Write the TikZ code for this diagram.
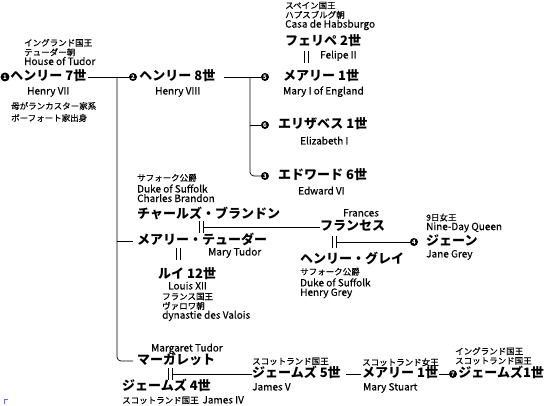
\documentclass[tikz,border=0pt]{standalone}
\usepackage{fontspec}
\setmainfont{Noto Sans CJK JP}
\newfontfamily\notefont{Noto Sans CJK JP}[FakeBold=0.4]
\newcommand{\en}{\fontsize{10}{9.5}\selectfont}
\usetikzlibrary{positioning,calc}

\begin{document}
\begin{tikzpicture}[
    x=1pt, y=-1pt,
    person/.style={font=\bfseries\fontsize{13}{13}\selectfont, inner sep=0, anchor=west, text height=0.8em, text depth=0.1em},
    note/.style={font=\notefont\fontsize{8.5}{9.5}\selectfont, inner sep=0, anchor=west, align=left},
    line1/.style={note, text height=0.8em, text depth=0.1em},
    en1/.style={line1, font=\notefont\en},
    num/.style={circle, fill=black, text=white, inner sep=0, minimum size=8pt, font=\bfseries\fontsize{6}{6}\selectfont},
    marr/.style={minimum width=3.5pt, minimum height=11pt, inner sep=0},
    link/.style={line width=0.7pt},
]
\useasboundingbox (0,0) rectangle (550,406);

% Henry VII
\node[num, minimum size=9pt] (c1) at (5,77) {1};
\node[person, right=0.5pt of c1] (h7) {ヘンリー 7世};
\node[note] (h7t) at (24,52) {イングランド国王\\テューダー朝\\\en House of Tudor};
\node[en1] (h7e) at (27,91) {Henry VII};
\node[note, font=\notefont\fontsize{8.5}{12}\selectfont] (h7m) at (11,112) {母がランカスター家系\\ボーフォート家出身};

% Henry VIII
\node[num] (c2) at (133,77) {2};
\node[person, right=2pt of c2] (h8) {ヘンリー 8世};
\node[en1] (h8e) at (155,91) {Henry VIII};

% Mary I and Felipe II
\node[num] (c5) at (265,77) {5};
\node[person] (mq) at (283,77) {メアリー 1世};
\node[en1] (mqe) at (283,91) {Mary I of England};
\node[person] (fe) at (285,42) {フェリペ 2世};
\node[en1] (fee) at (320,55) {Felipe II};
\node[marr] (m1) at (306,57) {};
\node[note] (fet) at (285,16) {スペイン国王\\ハプスブルグ朝\\\en Casa de Habsburgo};

% Elizabeth I
\node[num] (c6) at (265,125) {6};
\node[person] (el) at (278,125) {エリザベス 1世};
\node[en1] (ele) at (300,141) {Elizabeth I};

% Edward VI
\node[num] (c3) at (265,176) {3};
\node[person] (ed) at (278,176) {エドワード 6世};
\node[en1] (ede) at (298,191) {Edward VI};

% Charles Brandon and Mary Tudor
\node[note] (cbt) at (137,188) {サフォーク公爵\\[2pt]\en Duke of Suffolk\\\en Charles Brandon};
\node[person] (cb) at (137,215) {チャールズ・ブランドン};
\node[marr] (m2) at (201,227) {};
\node[person] (mt) at (137,241) {メアリー・テューダー};
\node[en1] (mte) at (208,252) {Mary Tudor};
\node[marr] (m3) at (178,254) {};
\node[person] (lu) at (158,275) {ルイ 12世};
\node[en1] (lue) at (168,286) {Louis XII};
\node[note] (lut) at (162,307) {フランス国王\\ヴァロワ朝\\\en dynastie des Valois};

% Frances and Henry Grey
\node[en1] (fre) at (343,213) {Frances};
\node[person] (fr) at (320,227) {フランセス};
\node[marr] (m4) at (334,242) {};
\node[person] (hg) at (300,260) {ヘンリー・グレイ};
\node[note] (hgt) at (300,283) {サフォーク公爵\\[2pt]\en Duke of Suffolk\\\en Henry Grey};

% Jane Grey
\node[num] (c4) at (414,242) {4};
\node[person] (jn) at (426,242) {ジェーン};
\node[note] (jnt) at (426,223) {9日女王\\\en Nine-Day Queen};
\node[en1] (jne) at (426,254) {Jane Grey};

% Margaret Tudor and James IV
\node[en1] (mgt) at (151,348) {Margaret Tudor};
\node[person] (mg) at (137,361) {マーガレット};
\node[marr] (m5) at (170,374) {};
\node[person] (j4) at (122,387) {ジェームズ 4世};
\node[line1] (j4t) at (122,400) {スコットランド国王\ \ {\en James IV}};

% James V
\node[person] (j5) at (252,374) {ジェームズ 5世};
\node[line1] (j5t) at (252,361) {スコットランド国王};
\node[en1] (j5e) at (252,387) {James V};

% Mary Stuart
\node[person] (ms) at (362,374) {メアリー 1世};
\node[line1] (mst) at (362,362) {スコットランド女王};
\node[en1] (mse) at (363,387) {Mary Stuart};

% James I
\node[num] (c7) at (453,374) {7};
\node[person, right=1pt of c7] (j6) {ジェームズ1世};
\node[note] (j6t) at (455,356) {イングランド国王\\スコットランド国王};

% Marriage bars
\foreach \m in {m1,m2,m3,m4,m5}
  \draw[link] (\m.north west) -- (\m.south west) (\m.north east) -- (\m.south east);

% Children of Henry VII
\coordinate (t1) at (117,77);
\draw[link, shorten <=2pt] (h7.east) -- (c2.west);
\draw[link, rounded corners=4pt, shorten >=4pt] (t1) |- (mg.west);
\draw[link, shorten >=4pt] (t1 |- mt.west) -- (mt.west);

% Children of Henry VIII
\coordinate (t2) at (250,77);
\draw[link, shorten <=9pt] (h8.east) -- (c5.west);
\draw[link, rounded corners=4pt] (t2) |- (c3.west);
\draw[link] (t2 |- c6.west) -- (c6.west);

% Descent lines
\draw[link] (m2.east) -- (fr.west);
\draw[link] (m4.east) -- (c4.west);
\draw[link] (m5.east) -- (j5.west);
\draw[link, shorten <=5pt, shorten >=1pt] (j5.east) -- (ms.west);
\draw[link, shorten <=1pt] (ms.east) -- (c7.west);

% corner mark
\draw[blue!60, line width=0.5pt] (4,404) |- (8,399);
\end{tikzpicture}
\end{document}
